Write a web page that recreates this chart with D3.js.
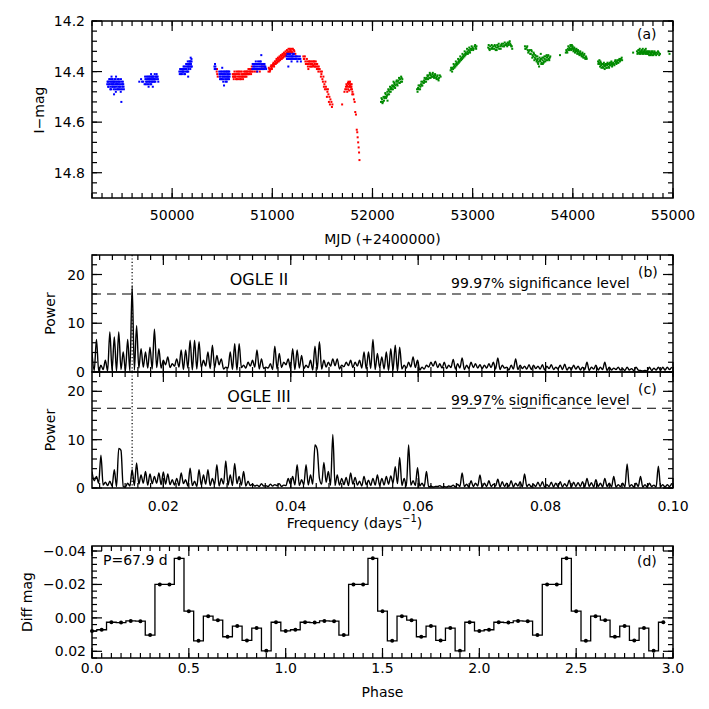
<!DOCTYPE html>
<html><head><meta charset="utf-8">
<script src="https://cdn.jsdelivr.net/npm/d3@7"></script>
<style>
body{margin:0;background:#fff}
text{font-family:"DejaVu Sans",sans-serif;font-size:14px;fill:#000}
</style>
</head><body>
<svg id="chart" width="709" height="709"></svg>
<script>
// ---------------- Panel (a): light curve ----------------
const mjdTicks=[50000,51000,52000,53000,54000,55000];
const magTicks=[14.2,14.4,14.6,14.8];
const blueData=[
[49352,14.45],[49360,14.44],[49365,14.46],[49372,14.43],[49378,14.45],[49383,14.47],[49388,14.44],[49392,14.45],[49398,14.43],[49402,14.46],[49407,14.44],[49411,14.45],[49416,14.47],[49420,14.44],[49425,14.43],[49430,14.46],[49434,14.45],[49438,14.48],[49443,14.44],[49447,14.46],[49452,14.45],[49457,14.43],[49461,14.47],[49466,14.45],[49470,14.44],[49475,14.46],[49480,14.45],[49485,14.47],[49489,14.43],[49493,14.52],[49497,14.45],[49502,14.46],[49508,14.44],[49515,14.46],[49420,14.49],[49395,14.42],[49440,14.42],
[49355,14.44],[49362,14.46],[49368,14.45],[49375,14.44],[49380,14.43],[49386,14.46],[49390,14.47],[49396,14.44],[49400,14.45],[49405,14.43],[49409,14.46],[49414,14.44],[49418,14.45],[49423,14.46],[49428,14.44],[49432,14.47],[49436,14.43],[49441,14.45],[49445,14.44],[49450,14.47],[49455,14.45],[49459,14.44],[49464,14.46],[49468,14.43],[49472,14.47],[49478,14.44],[49483,14.46],[49487,14.48],[49495,14.44],[49500,14.47],[49505,14.45],[49512,14.45],[49518,14.47],
[49672,14.44],[49690,14.43],[49712,14.44],[49725,14.45],[49733,14.43],[49740,14.44],[49746,14.42],[49752,14.45],[49758,14.43],[49763,14.44],[49768,14.42],[49773,14.44],[49778,14.43],[49783,14.45],[49788,14.42],[49793,14.43],[49798,14.44],[49802,14.42],[49807,14.46],[49812,14.43],[49817,14.42],[49822,14.44],[49828,14.43],[49835,14.42],[49842,14.43],[49850,14.42],[49858,14.43],[49765,14.46],[49790,14.41],
[49700,14.44],[49730,14.42],[49737,14.45],[49743,14.43],[49749,14.44],[49755,14.42],[49761,14.43],[49766,14.45],[49771,14.43],[49776,14.42],[49781,14.44],[49786,14.43],[49791,14.45],[49796,14.42],[49800,14.44],[49805,14.43],[49810,14.42],[49815,14.44],[49820,14.43],[49826,14.41],[49832,14.44],[49838,14.42],[49845,14.41],[49855,14.42],[49862,14.44],
[50072,14.40],[50080,14.39],[50088,14.41],[50095,14.40],[50102,14.39],[50108,14.40],[50114,14.38],[50120,14.41],[50126,14.39],[50132,14.40],[50138,14.38],[50143,14.39],[50148,14.37],[50153,14.40],[50158,14.38],[50163,14.39],[50168,14.37],[50173,14.38],[50178,14.36],[50183,14.38],[50188,14.37],[50193,14.35],[50196,14.38],[50160,14.42],[50185,14.345],
[50076,14.41],[50084,14.40],[50091,14.39],[50098,14.41],[50105,14.40],[50111,14.39],[50117,14.40],[50123,14.38],[50129,14.41],[50135,14.39],[50140,14.37],[50146,14.40],[50151,14.38],[50156,14.36],[50161,14.40],[50166,14.38],[50171,14.36],[50176,14.37],[50181,14.39],[50186,14.36],[50191,14.38],[50194,14.36],
[50422,14.38],[50428,14.37],[50435,14.39],[50470,14.40],[50475,14.42],[50480,14.41],[50485,14.40],[50490,14.43],[50495,14.41],[50500,14.42],[50505,14.40],[50510,14.44],[50515,14.41],[50520,14.42],[50525,14.40],[50530,14.43],[50535,14.41],[50540,14.42],[50545,14.40],[50550,14.41],[50555,14.43],[50560,14.41],[50565,14.42],[50570,14.40],[50575,14.41],[50518,14.455],[50500,14.385],[50545,14.44],
[50425,14.39],[50432,14.38],[50472,14.41],[50478,14.43],[50483,14.42],[50488,14.41],[50493,14.40],[50498,14.43],[50503,14.41],[50508,14.42],[50513,14.43],[50518,14.40],[50523,14.41],[50528,14.42],[50533,14.44],[50538,14.40],[50543,14.43],[50548,14.42],[50553,14.40],[50558,14.42],[50563,14.40],[50568,14.43],[50573,14.42],
[50800,14.39],[50808,14.38],[50815,14.37],[50822,14.39],[50828,14.38],[50835,14.36],[50842,14.38],[50848,14.37],[50855,14.39],[50862,14.37],[50868,14.38],[50875,14.36],[50882,14.38],[50888,14.37],[50895,14.39],[50902,14.38],[50910,14.37],[50918,14.39],[50925,14.38],[50932,14.385],[50938,14.39],[50890,14.335],[50850,14.40],
[50804,14.37],[50812,14.39],[50818,14.38],[50825,14.37],[50832,14.39],[50838,14.37],[50845,14.39],[50852,14.38],[50858,14.36],[50865,14.39],[50872,14.37],[50878,14.39],[50885,14.36],[50892,14.38],[50898,14.37],[50906,14.39],[50914,14.38],[50922,14.37],[50930,14.38],
[51142,14.34],[51150,14.33],[51158,14.35],[51165,14.34],[51172,14.33],[51178,14.35],[51185,14.34],[51192,14.36],[51198,14.34],[51205,14.33],[51212,14.35],[51220,14.34],[51230,14.35],[51240,14.34],[51250,14.36],[51262,14.35],[51275,14.34],[51285,14.36],[51160,14.38],
[51146,14.35],[51154,14.34],[51162,14.33],[51168,14.35],[51175,14.34],[51182,14.33],[51188,14.35],[51195,14.34],[51202,14.35],[51208,14.34],[51216,14.33],[51225,14.35],[51235,14.34],[51245,14.35],[51256,14.34],[51268,14.35],[51280,14.35]
];
const redData=[
[50445,14.40],[50450,14.41],[50455,14.42],[50448,14.39],
[50605,14.41],[50612,14.42],[50618,14.41],[50625,14.42],[50632,14.41],[50638,14.43],[50645,14.41],[50652,14.42],[50658,14.41],[50665,14.42],[50672,14.41],[50678,14.43],[50685,14.42],[50692,14.41],[50698,14.42],[50705,14.41],[50712,14.42],[50718,14.40],[50725,14.41],[50732,14.42],[50738,14.40],[50745,14.41],[50752,14.40],[50758,14.41],[50765,14.40],[50772,14.41],[50778,14.40],[50785,14.39],[50792,14.40],[50798,14.39],
[50608,14.42],[50615,14.43],[50622,14.40],[50628,14.42],[50635,14.42],[50642,14.40],[50648,14.43],[50655,14.40],[50662,14.43],[50668,14.40],[50675,14.42],[50682,14.40],[50688,14.43],[50695,14.40],[50702,14.42],[50708,14.43],[50715,14.41],[50722,14.42],[50728,14.40],[50735,14.41],[50742,14.42],[50748,14.40],[50755,14.41],[50762,14.39],[50768,14.41],[50775,14.39],[50782,14.40],[50788,14.41],[50795,14.38],
[50805,14.40],[50815,14.39],[50825,14.40],[50835,14.39],[50845,14.40],[50855,14.39],[50865,14.39],[50875,14.40],[50885,14.39],[50895,14.38],[50905,14.39],[50915,14.38],
[50962,14.40],[50970,14.39],[50978,14.395],[50985,14.38],[50992,14.385],[51000,14.38],[51008,14.37],[51015,14.375],[51022,14.37],[51030,14.36],[51038,14.365],[51045,14.355],[51052,14.36],[51060,14.35],[51068,14.355],[51075,14.345],[51082,14.35],[51090,14.34],[51098,14.345],[51105,14.335],[51112,14.34],[51120,14.33],[51128,14.335],[51135,14.33],[51142,14.325],[51150,14.33],[51158,14.32],[51165,14.325],[51172,14.32],[51180,14.315],[51188,14.325],[51195,14.32],[51205,14.31],[51212,14.33],[51220,14.32],[51230,14.33],
[50965,14.385],[50975,14.40],[50982,14.39],[50990,14.375],[50996,14.39],[51004,14.375],[51012,14.365],[51018,14.38],[51026,14.36],[51034,14.37],[51042,14.35],[51048,14.365],[51056,14.345],[51064,14.36],[51072,14.34],[51078,14.355],[51086,14.335],[51094,14.35],[51102,14.33],[51108,14.345],[51116,14.325],[51124,14.34],[51132,14.32],[51138,14.335],[51146,14.315],[51154,14.325],[51162,14.31],[51168,14.33],[51176,14.31],[51184,14.32],[51192,14.31],[51200,14.325],[51215,14.315],
[51310,14.34],[51320,14.35],[51330,14.36],[51340,14.37],[51348,14.36],[51355,14.38],[51362,14.37],[51370,14.36],[51378,14.37],[51385,14.38],[51392,14.36],[51400,14.37],[51408,14.375],[51415,14.36],[51422,14.37],[51430,14.38],[51438,14.37],[51445,14.39],[51452,14.38],[51460,14.40],[51468,14.39],
[51315,14.35],[51325,14.34],[51335,14.37],[51345,14.35],[51352,14.37],[51360,14.39],[51366,14.36],[51374,14.38],[51382,14.36],[51390,14.37],[51396,14.38],[51404,14.36],[51412,14.38],[51420,14.36],[51426,14.38],[51434,14.36],[51442,14.38],[51448,14.37],[51456,14.39],[51464,14.38],[51472,14.39],
[51480,14.40],[51490,14.41],[51500,14.43],[51510,14.42],[51520,14.45],[51530,14.44],[51540,14.47],[51550,14.48],[51560,14.49],[51570,14.50],[51580,14.51],[51590,14.52],[51600,14.53],
[51485,14.42],[51495,14.40],[51505,14.44],[51515,14.46],[51525,14.47],[51535,14.46],[51545,14.50],[51555,14.47],[51565,14.52],[51575,14.53],[51595,14.54],
[51697,14.53],[51720,14.48],[51728,14.47],[51735,14.46],[51740,14.47],[51745,14.455],[51750,14.46],[51755,14.445],[51758,14.47],[51762,14.45],[51766,14.46],[51770,14.445],[51774,14.455],[51778,14.46],[51782,14.45],[51786,14.47],[51790,14.46],[51795,14.47],[51800,14.48],[51808,14.49],[51815,14.51],[51822,14.52],[51828,14.56],[51835,14.57],[51843,14.63],[51848,14.64],[51852,14.66],[51857,14.68],[51862,14.70],[51866,14.72],[51870,14.75],
[51740,14.45],[51748,14.48],[51760,14.44],[51768,14.475],[51776,14.44],[51784,14.46],[51792,14.45],[51798,14.49]
];
const greenData=[
[52085,14.52],[52095,14.51],[52103,14.52],[52110,14.50],[52118,14.505],[52125,14.50],[52132,14.49],[52140,14.50],[52148,14.48],[52155,14.49],[52162,14.475],[52170,14.48],[52178,14.47],[52185,14.465],[52192,14.47],[52200,14.46],[52208,14.455],[52215,14.46],[52222,14.45],[52230,14.455],[52238,14.44],[52245,14.45],[52252,14.44],[52260,14.435],[52268,14.445],[52275,14.43],[52283,14.44],[52290,14.425],[52298,14.43],[52150,14.515],[52210,14.44],
[52090,14.505],[52100,14.525],[52115,14.515],[52128,14.485],[52136,14.505],[52145,14.495],[52158,14.47],[52166,14.49],[52175,14.46],[52182,14.48],[52196,14.455],[52204,14.47],[52218,14.445],[52226,14.465],[52242,14.435],[52250,14.455],[52265,14.425],[52272,14.445],[52286,14.42],[52295,14.44],
[52445,14.47],[52455,14.465],[52462,14.47],[52470,14.455],[52478,14.46],[52485,14.45],[52492,14.455],[52500,14.44],[52508,14.445],[52515,14.435],[52522,14.44],[52530,14.43],[52538,14.425],[52545,14.43],[52552,14.42],[52560,14.415],[52568,14.425],[52575,14.41],[52582,14.415],[52590,14.42],[52598,14.41],[52605,14.42],[52612,14.415],[52620,14.42],[52628,14.415],[52635,14.425],[52645,14.42],[52655,14.43],[52665,14.425],[52680,14.42],
[52450,14.48],[52460,14.455],[52475,14.47],[52488,14.44],[52498,14.455],[52512,14.445],[52520,14.425],[52535,14.44],[52548,14.415],[52556,14.43],[52572,14.405],[52580,14.425],[52595,14.42],[52602,14.405],[52615,14.425],[52625,14.41],[52640,14.43],[52650,14.415],[52660,14.435],[52672,14.415],
[52780,14.395],[52790,14.39],[52798,14.385],[52805,14.39],[52812,14.38],[52820,14.375],[52828,14.38],[52835,14.37],[52842,14.365],[52850,14.37],[52858,14.36],[52865,14.355],[52872,14.36],[52880,14.35],[52888,14.345],[52895,14.35],[52902,14.34],[52910,14.335],[52918,14.34],[52925,14.33],[52932,14.325],[52940,14.33],[52948,14.32],[52955,14.325],[52962,14.315],[52970,14.32],[52978,14.31],[52985,14.315],[52992,14.31],[53000,14.305],[53010,14.31],[53020,14.30],[53030,14.305],[53038,14.30],
[52785,14.385],[52795,14.40],[52810,14.37],[52818,14.385],[52832,14.36],[52840,14.375],[52855,14.35],[52862,14.365],[52876,14.34],[52885,14.355],[52898,14.33],[52906,14.345],[52920,14.32],[52928,14.335],[52944,14.31],[52952,14.33],[52966,14.305],[52974,14.325],[52990,14.30],[53005,14.315],[53025,14.295],[53035,14.31],
[53155,14.305],[53165,14.31],[53175,14.30],[53185,14.31],[53195,14.305],[53205,14.30],[53215,14.31],[53225,14.30],[53235,14.305],[53245,14.295],[53255,14.30],[53265,14.31],[53275,14.30],[53285,14.295],[53295,14.30],[53305,14.29],[53315,14.30],[53325,14.295],[53335,14.29],[53345,14.30],[53355,14.29],[53365,14.285],[53375,14.29],[53385,14.30],[53395,14.31],[53240,14.315],
[53160,14.295],[53170,14.315],[53190,14.295],[53200,14.31],[53220,14.295],[53230,14.315],[53250,14.305],[53260,14.29],[53280,14.31],[53290,14.29],[53310,14.30],[53320,14.285],[53340,14.295],[53350,14.285],[53360,14.295],[53370,14.28],[53380,14.295],[53390,14.30],
[53522,14.30],[53530,14.31],[53540,14.305],[53550,14.315],[53560,14.32],[53570,14.315],[53580,14.33],[53590,14.32],[53598,14.335],[53605,14.34],[53612,14.33],[53620,14.345],[53628,14.35],[53635,14.34],[53642,14.355],[53650,14.35],[53658,14.36],[53663,14.38],[53668,14.345],[53675,14.36],[53682,14.35],[53690,14.365],[53698,14.355],[53705,14.345],[53712,14.36],[53720,14.35],[53728,14.34],[53735,14.355],[53742,14.345],[53750,14.34],[53760,14.35],[53770,14.345],[53680,14.33],[53700,14.37],
[53526,14.31],[53545,14.30],[53555,14.325],[53575,14.33],[53585,14.315],[53595,14.345],[53608,14.325],[53616,14.355],[53625,14.335],[53638,14.36],[53646,14.34],[53655,14.37],[53672,14.355],[53685,14.37],[53695,14.345],[53708,14.365],[53716,14.34],[53725,14.36],[53738,14.335],[53746,14.355],[53755,14.335],[53765,14.355],[53775,14.34],[53650,14.365],
[53872,14.335],[53930,14.325],[53940,14.32],[53950,14.31],[53958,14.315],[53965,14.305],[53972,14.31],[53980,14.30],[53988,14.31],[53995,14.305],[54002,14.31],[54010,14.315],[54018,14.31],[54025,14.32],[54032,14.315],[54040,14.32],[54048,14.325],[54055,14.32],[54062,14.33],[54070,14.325],[54078,14.33],[54085,14.335],[54092,14.33],[54100,14.34],[54110,14.335],[54120,14.345],[54130,14.34],[54138,14.35],[53990,14.295],
[53935,14.315],[53945,14.325],[53955,14.30],[53968,14.315],[53976,14.295],[53985,14.315],[53998,14.30],[54006,14.32],[54014,14.305],[54022,14.325],[54036,14.31],[54044,14.33],[54052,14.315],[54066,14.335],[54074,14.32],[54088,14.34],[54096,14.325],[54105,14.345],[54115,14.33],[54125,14.35],[54135,14.345],
[54252,14.36],[54260,14.365],[54268,14.37],[54275,14.36],[54282,14.375],[54290,14.37],[54298,14.38],[54305,14.37],[54312,14.375],[54320,14.38],[54328,14.37],[54335,14.385],[54342,14.375],[54350,14.37],[54358,14.38],[54365,14.37],[54372,14.375],[54380,14.365],[54388,14.37],[54395,14.375],[54402,14.365],[54410,14.37],[54420,14.36],[54430,14.365],[54440,14.36],[54450,14.365],[54460,14.355],[54470,14.36],[54480,14.35],[54492,14.355],
[54255,14.37],[54265,14.355],[54272,14.38],[54280,14.365],[54286,14.385],[54295,14.37],[54302,14.385],[54310,14.365],[54318,14.39],[54325,14.375],[54332,14.37],[54340,14.385],[54346,14.365],[54355,14.37],[54362,14.385],[54368,14.365],[54376,14.375],[54385,14.36],[54392,14.38],[54400,14.37],[54415,14.375],[54425,14.355],[54435,14.37],[54445,14.355],[54455,14.365],[54465,14.35],[54475,14.355],[54488,14.345],
[54602,14.325],[54640,14.32],[54650,14.325],[54658,14.315],[54665,14.33],[54672,14.32],[54680,14.325],[54688,14.315],[54695,14.33],[54702,14.32],[54710,14.325],[54718,14.315],[54725,14.33],[54732,14.32],[54740,14.325],[54748,14.33],[54755,14.32],[54762,14.335],[54770,14.325],[54778,14.33],[54785,14.32],[54792,14.335],[54800,14.325],[54810,14.33],[54820,14.325],[54832,14.335],[54845,14.33],[54858,14.325],[54870,14.33],[54955,14.32],[54965,14.33],
[54645,14.33],[54655,14.315],[54662,14.325],[54668,14.31],[54676,14.33],[54684,14.32],[54692,14.325],[54698,14.31],[54706,14.33],[54714,14.32],[54722,14.325],[54728,14.31],[54736,14.33],[54744,14.32],[54752,14.33],[54758,14.325],[54766,14.32],[54774,14.335],[54782,14.33],[54788,14.325],[54796,14.32],[54805,14.335],[54815,14.32],[54825,14.33],[54838,14.325],[54850,14.32],[54862,14.335]
];

// ---------------- Panels (b),(c): periodograms ----------------
const freqStart=0.0088, freqStep=0.00035;   // peaks at even steps, troughs at odd steps
const freqTicks=[0.02,0.04,0.06,0.08,0.10];
const powerTicks=[0,10,20];
const trialFreq=0.0151;
const sigLevelII=16.0, sigLevelIII=16.5;
const ogle2Peaks=[4.0,6.7,1.4,2.4,8.2,7.2,8.2,4.1,6.7,17.6,
 9.5,4.8,4.1,5.1,8.8,4.8,2.4,3.1,1.7,2.7,
 4.5,4.5,6.5,6.5,6.2,2.4,4.1,5.5,3.4,2.7,
 1.0,4.1,5.8,5.8,1.4,2.0,2.4,4.5,2.7,1.0,
 1.7,5.3,3.8,2.0,2.7,4.8,4.5,3.4,1.4,2.4,
 5.3,6.2,2.4,2.0,2.7,2.7,1.4,2.0,2.4,2.0,
 2.4,4.1,4.1,6.7,3.8,3.1,4.1,4.8,5.5,5.1,
 1.4,2.0,3.1,2.4,1.0,1.4,2.0,2.2,1.7,2.0,
 1.4,2.6,1.7,2.9,1.4,2.0,1.7,1.5,1.4,1.7,
 2.0,2.9,1.4,1.0,1.4,2.7,1.4,1.2,1.5,1.4,
 1.2,1.5,1.2,1.5,1.0,1.4,1.6,1.0,1.4,1.2,
 1.0,2.0,1.0,1.4,1.0,2.0,1.0,0.8,1.0,0.7,
 1.0,0.7,1.0,0.3,0.3,1.0,0.8,1.0,1.0,1.0,
 1.0];
const ogle2Troughs=[0.3,0.2,0.5,0.2,0.3,0.2,0.5,0.3,0.2,0.4,
 0.8,1.0,0.8,0.6,0.9,0.8,1.5,0.9,1.2,1.0,
 0.5,0.8,0.4,0.6,0.9,1.2,0.7,0.8,1.5,0.6,
 0.8,0.5,0.4,0.9,0.8,1.2,1.0,0.6,0.7,0.8,
 0.5,0.6,0.9,1.5,0.7,0.5,0.8,0.7,0.9,0.4,
 0.5,0.6,1.0,1.2,1.3,0.6,1.1,1.3,0.9,1.2,
 0.8,0.6,0.7,0.5,0.9,0.6,0.3,0.4,0.2,0.6,
 0.8,1.0,0.9,0.4,0.6,1.0,1.2,0.9,0.8,0.7,
 0.9,0.6,0.8,0.5,0.7,0.9,0.8,0.7,0.8,0.9,
 0.6,0.5,0.8,0.4,0.6,0.5,0.7,0.6,0.5,0.7,
 0.6,0.4,0.7,0.5,0.6,0.5,0.4,0.5,0.6,0.4,
 0.5,0.3,0.6,0.4,0.5,0.3,0.4,0.5,0.4,0.3,
 0.4,0.3,0.4,0.2,0.2,0.3,0.4,0.3,0.4,0.5];
const ogle3Peaks=[3.4,2.4,6.8,1.2,1.4,3.8,8.2,0.3,1.0,3.8,
 5.2,2.7,3.4,2.9,2.4,3.1,3.3,2.9,1.7,2.0,
 3.1,1.7,4.1,1.4,3.8,2.7,3.8,2.0,4.8,2.0,
 5.6,2.7,5.1,2.4,3.4,1.4,0.8,0.6,0.9,0.5,
 0.8,0.7,0.9,0.6,2.0,2.4,4.8,1.7,4.8,2.7,
 8.9,2.0,5.3,3.4,11.1,2.7,2.0,2.2,3.1,2.2,
 1.4,2.4,1.6,2.0,2.7,2.0,2.4,2.5,4.4,6.3,
 2.0,8.9,1.5,4.2,1.0,3.4,0.4,0.3,0.5,0.3,
 0.4,0.6,0.8,3.1,0.8,1.5,1.0,2.7,1.0,1.5,
 0.8,1.8,1.3,1.0,1.5,1.0,1.3,2.9,0.8,0.8,
 1.2,1.3,0.7,1.2,1.0,1.3,0.9,1.6,1.2,1.1,
 1.3,2.0,1.1,1.7,1.0,2.0,1.0,2.4,0.7,1.0,
 5.0,0.7,1.0,2.4,0.7,1.0,0.6,4.5,0.7,0.7,
 1.0];
const ogle3Troughs=[1.5,1.0,0.6,0.5,0.4,0.3,7.8,0.2,0.4,0.5,
 0.8,1.0,0.6,0.9,1.0,0.7,0.8,0.7,0.6,0.5,
 0.9,0.4,0.5,0.3,0.6,0.8,0.5,0.7,0.4,0.8,
 0.6,0.5,0.9,0.6,0.4,0.5,0.4,0.3,0.4,0.3,
 0.4,0.5,0.3,0.5,0.8,0.6,0.5,0.7,0.6,0.8,
 8.0,0.8,1.2,0.6,0.5,0.6,0.7,0.5,0.8,0.6,
 0.4,0.7,0.5,0.6,0.5,0.6,0.8,1.0,0.9,0.5,
 0.4,0.6,0.5,0.4,0.3,0.2,0.2,0.3,0.2,0.2,
 0.3,0.2,0.3,0.3,0.2,0.3,0.4,0.2,0.3,0.3,
 0.4,0.2,0.3,0.3,0.2,0.4,0.2,0.3,0.2,0.3,
 0.3,0.2,0.3,0.2,0.3,0.2,0.3,0.2,0.3,0.3,
 0.2,0.3,0.2,0.3,0.2,0.3,0.2,0.2,0.3,0.2,
 0.3,0.2,0.3,0.2,0.2,0.3,0.2,0.3,0.2,0.3];

// ---------------- Panel (d): folded profile ----------------
const binWidth=0.05;
const phaseProfile=[0.0078,0.0071,0.0026,0.0028,0.0018,0.0020,0.0103,-0.0200,-0.0200,-0.0356,
 -0.0040,0.0137,-0.0010,0.0014,0.0113,0.0049,0.0135,0.0061,0.0197,0.0026];
const nCycles=3;
const phaseTicks=[0,0.5,1.0,1.5,2.0,2.5,3.0];
const diffTicks=[-0.04,-0.02,0.00,0.02];
const periodLabel="P=67.9  d";

// ---------------- drawing ----------------
const svg=d3.select('#chart');
svg.append('rect').attr('width',709).attr('height',709).attr('fill','#fff');
const L=92,R=673,MAJ=10,MIN=5;

function frame(xs,ys,xMaj,xMinStep,yMaj,yMinStep){
  const [x0,x1]=xs.range(), [yb,yt]=ys.range();
  const g=svg.append('g').attr('stroke','#000').attr('fill','none').attr('stroke-width',1.2);
  const line=(a,b,c,d)=>g.append('line').attr('x1',a).attr('y1',b).attr('x2',c).attr('y2',d);
  const xd=xs.domain(), yd=ys.domain();
  const ylo=Math.min(...yd), yhi=Math.max(...yd);
  const xMin=d3.range(Math.ceil(xd[0]/xMinStep-1e-6),Math.floor(xd[1]/xMinStep+1e-6)+1).map(k=>k*xMinStep);
  const yMin=d3.range(Math.ceil(ylo/yMinStep-1e-6),Math.floor(yhi/yMinStep+1e-6)+1).map(k=>k*yMinStep);
  xMin.forEach(v=>{const X=xs(v);line(X,yb,X,yb-MIN);line(X,yt,X,yt+MIN);});
  xMaj.forEach(v=>{const X=xs(v);line(X,yb,X,yb-MAJ);line(X,yt,X,yt+MAJ);});
  yMin.forEach(v=>{const Y=ys(v);line(x0,Y,x0+MIN,Y);line(x1,Y,x1-MIN,Y);});
  yMaj.forEach(v=>{const Y=ys(v);line(x0,Y,x0+MAJ,Y);line(x1,Y,x1-MAJ,Y);});
  g.append('rect').attr('x',x0).attr('y',yt).attr('width',x1-x0).attr('height',yb-yt).attr('stroke-width',1.5);
}
function text(x,y,s,anchor='start',rot=0){
  const t=svg.append('text').attr('text-anchor',anchor).text(s);
  if(rot) t.attr('transform',`translate(${x},${y}) rotate(${rot})`); else t.attr('x',x).attr('y',y);
  return t;
}
function clip(id,x0,y0,x1,y1){
  svg.append('clipPath').attr('id',id).append('rect').attr('x',x0).attr('y',y0).attr('width',x1-x0).attr('height',y1-y0);
}

// ----- (a)
const xA=d3.scaleLinear().domain([49200,55000]).range([L,R]);
const yA=d3.scaleLinear().domain([14.9,14.2]).range([198,21]);
clip('ca',L,21,R,198);
const gA=svg.append('g').attr('clip-path','url(#ca)');
[[redData,'#ff0000'],[blueData,'#0000ff'],[greenData,'#008a00']].forEach(([data,col])=>{
  gA.append('g').selectAll('rect').data(data).join('rect')
   .attr('x',d=>xA(d[0])-1).attr('y',d=>yA(d[1])-1).attr('width',2).attr('height',2).attr('fill',col);
});
frame(xA,yA,mjdTicks,100,magTicks,0.04);
mjdTicks.forEach(v=>text(xA(v),220,String(v),'middle'));
magTicks.forEach(v=>text(85,yA(v)+5,v.toFixed(1),'end'));
text(xA(52100),244,'MJD (+2400000)','middle');
text(44,110,'I\u2212mag','middle',-90);
text(637,39,'(a)');

// ----- (b),(c)
const xF=d3.scaleLinear().domain([0.0088,0.1]).range([L,R]);
function series(peaks,troughs){
  const pts=[];
  peaks.forEach((p,j)=>{pts.push([freqStart+2*j*freqStep,p]); if(j<troughs.length) pts.push([freqStart+(2*j+1)*freqStep,troughs[j]]);});
  return pts;
}
function periodPanel(id,top,bottom,peaks,troughs,sig,label,tag){
  const yP=d3.scaleLinear().domain([0,24]).range([bottom,top]);
  clip(id,L,top,R,bottom);
  const g=svg.append('g').attr('clip-path',`url(#${id})`);
  g.append('path').attr('d',d3.line().curve(d3.curveMonotoneX).x(d=>xF(d[0])).y(d=>yP(d[1]))(series(peaks,troughs)))
   .attr('fill','none').attr('stroke','#000').attr('stroke-width',1.4).attr('stroke-linejoin','round');
  g.append('line').attr('x1',L).attr('x2',R).attr('y1',yP(sig)).attr('y2',yP(sig))
   .attr('stroke','#000').attr('stroke-width',1.2).attr('stroke-dasharray','9,6');
  g.append('line').attr('x1',xF(trialFreq)).attr('x2',xF(trialFreq)).attr('y1',top).attr('y2',bottom)
   .attr('stroke','#000').attr('stroke-width',1.2).attr('stroke-dasharray','1.2,2.2');
  frame(xF,yP,freqTicks,0.002,powerTicks,2);
  powerTicks.forEach(v=>text(85,yP(v)+5,String(v),'end'));
  text(55,(top+bottom)/2,'Power','middle',-90);
  text(259,top+30,label,'middle').style('font-size','16px');
  text(451,top+33,'99.97% significance level');
  text(638,top+22,tag);
  return yP;
}
periodPanel('cb',255,372,ogle2Peaks,ogle2Troughs,sigLevelII,'OGLE  II','(b)');
periodPanel('cc',372,488,ogle3Peaks,ogle3Troughs,sigLevelIII,'OGLE  III','(c)');
freqTicks.forEach(v=>text(xF(v),511,v.toFixed(2),'middle'));
const ft=text(xF(0.05),528,'Frequency (days','middle');
ft.append('tspan').attr('dy',-6).style('font-size','10px').text('\u22121');
ft.append('tspan').attr('dy',6).text(')');

// ----- (d)
const xD=d3.scaleLinear().domain([0,3]).range([L,R]);
const yD=d3.scaleLinear().domain([0.024,-0.043]).range([658,546]);
const folded=[];
for(let c=0;c<nCycles;c++) phaseProfile.forEach((v,i)=>folded.push([c+i*binWidth,v]));
const step=[];
folded.forEach((d,i)=>{
  const a=i===0?d[0]:d[0]-binWidth/2, b=i===folded.length-1?d[0]:d[0]+binWidth/2;
  step.push([a,d[1]],[b,d[1]]);
});
svg.append('path').attr('d',d3.line().x(d=>xD(d[0])).y(d=>yD(d[1]))(step))
  .attr('fill','none').attr('stroke','#000').attr('stroke-width',1.3);
svg.append('g').selectAll('circle').data(folded).join('circle')
  .attr('cx',d=>xD(d[0])).attr('cy',d=>yD(d[1])).attr('r',2).attr('fill','#000');
frame(xD,yD,phaseTicks,0.05,diffTicks,0.004);
phaseTicks.forEach(v=>text(xD(v),673,v.toFixed(1),'middle'));
diffTicks.forEach(v=>text(86,yD(v)+5,(v<0?'\u2212':'')+Math.abs(v).toFixed(2),'end'));
text(xD(1.5),697,'Phase','middle');
text(32,602,'Diff  mag','middle',-90);
text(103,565,periodLabel);
text(637,566,'(d)');
</script>
</body></html>
